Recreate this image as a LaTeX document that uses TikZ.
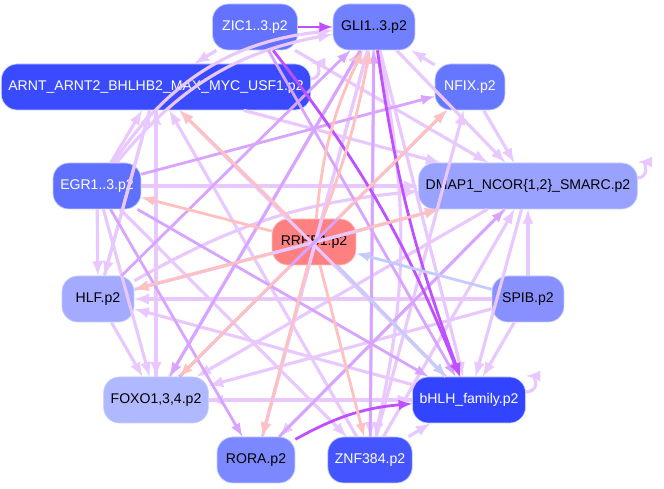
\documentclass[tikz,border=0pt]{standalone}
\usepackage{fontspec}
\setmainfont{Liberation Sans}
\usetikzlibrary{arrows}
\usetikzlibrary{positioning}
\definecolor{lite}{HTML}{E8C8FF}
\definecolor{mid}{HTML}{D8A4FF}
\definecolor{strong}{HTML}{C050FF}
\definecolor{pink}{HTML}{FFC0C0}
\definecolor{pale}{HTML}{C4CCFF}

\tikzset{
  tf/.style={rounded corners=9pt, draw=pale, line width=0.4pt, minimum height=0.92cm,
    font=\fontsize{8}{9}\selectfont, inner xsep=4pt},
  e1/.style={-latex, draw=lite, line width=1.8pt},
  e2/.style={-latex, draw=mid, line width=1.6pt},
  e3/.style={-latex, draw=strong, line width=1.6pt},
  ep/.style={-latex, draw=pink, line width=1.6pt},
  eb/.style={-latex, draw=pale, line width=1.6pt},
}

\begin{document}
\begin{tikzpicture}[x=0.02cm, y=-0.02cm]
    \path[use as bounding box] (0, 0) rectangle (664, 489);

    % edges first, nodes on top
    \begin{scope}[on background layer/.style={}]
    \end{scope}

    \node[tf, fill={rgb,255:red,100;green,115;blue,255}, text=white, minimum width=1.7cm] (zic) at (255, 27) {ZIC1..3.p2};
    \node[tf, fill={rgb,255:red,112;green,128;blue,255}, minimum width=1.64cm] (gli) at (374, 27) {GLI1..3.p2};
    \node[tf, fill={rgb,255:red,58;green,75;blue,255}, text=white, minimum width=6cm] (arnt) at (156, 87) {ARNT\_ARNT2\_BHLHB2\_MAX\_MYC\_USF1.p2};
    \node[tf, fill={rgb,255:red,102;green,119;blue,255}, text=white, minimum width=1.4cm] (nfix) at (470, 87) {NFIX.p2};
    \node[tf, fill={rgb,255:red,95;green,112;blue,255}, text=white, minimum width=1.76cm] (egr) at (97, 186) {EGR1..3.p2};
    \node[tf, fill={rgb,255:red,153;green,163;blue,255}, minimum width=4.24cm] (dmap) at (528, 186) {DMAP1\_NCOR\{1,2\}\_SMARC.p2};
    \node[tf, fill={rgb,255:red,255;green,128;blue,128}, draw=pink, minimum width=1.68cm] (rreb) at (314, 242) {RREB1.p2};
    \node[tf, fill={rgb,255:red,163;green,170;blue,255}, minimum width=1.44cm] (hlf) at (98, 299) {HLF.p2};
    \node[tf, fill={rgb,255:red,136;green,144;blue,255}, minimum width=1.44cm] (spib) at (528, 299) {SPIB.p2};
    \node[tf, fill={rgb,255:red,176;green,184;blue,255}, minimum width=2.08cm] (foxo) at (156, 400) {FOXO1,3,4.p2};
    \node[tf, fill={rgb,255:red,51;green,68;blue,255}, text=white, minimum width=2.24cm] (bhlh) at (469, 400) {bHLH\_family.p2};
    \node[tf, fill={rgb,255:red,124;green,136;blue,255}, minimum width=1.56cm] (rora) at (256, 460) {RORA.p2};
    \node[tf, fill={rgb,255:red,68;green,85;blue,255}, text=white, minimum width=1.64cm] (znf) at (370, 460) {ZNF384.p2};

    \begin{pgfinterruptboundingbox}
    % light edges
    \foreach \a/\b in {egr/dmap, egr/hlf, egr/foxo, egr/arnt, hlf/foxo, foxo/bhlh, bhlh/foxo,
        gli/znf, gli/rora, nfix/dmap, nfix/gli, spib/dmap, spib/bhlh, spib/hlf, bhlh/hlf,
        bhlh/arnt, dmap/foxo, dmap/hlf, znf/bhlh, znf/arnt, znf/nfix, rora/gli, foxo/gli,
        hlf/dmap, arnt/dmap, zic/dmap, gli/foxo, dmap/rora, egr/znf, arnt/foxo, arnt/hlf,
        gli/dmap, zic/arnt, znf/dmap, hlf/arnt, foxo/arnt, spib/foxo, dmap/bhlh, gli/bhlh}
      \draw[e1] (\a) -- (\b);
    \draw[e1] (egr) to[bend left=20] (gli);
    \draw[e1] (egr) to[bend left=25] (gli);
    \draw[e1] (gli) to[bend left=12] (znf);
    \draw[e1] (hlf) to[bend left=12] (dmap);
    % medium edges
    \foreach \a/\b in {egr/nfix, zic/bhlh, egr/rora, foxo/nfix, rora/dmap, gli/foxo, znf/gli, hlf/gli}
      \draw[e2] (\a) -- (\b);
    % strong edges
    \draw[e3] (zic) -- (gli);
    \draw[e3] (zic) to[bend left=8] (bhlh);
    \draw[e3] (gli) to[bend right=6] (bhlh);
    \draw[e3] (rora) to[bend left=12] (bhlh);
    \draw[e2] (egr) -- (bhlh);
    % from RREB1
    \foreach \b in {egr, arnt, nfix, dmap, hlf, foxo, rora, znf, bhlh}
      \draw[ep] (rreb) -- (\b);
    \draw[ep] (rreb) to[bend left=10] (gli);
    \draw[ep] (rreb) to[bend right=5] (gli);
    \draw[eb] (spib) -- (rreb);
    \draw[eb] (rreb) -- (bhlh);
    % self loops
    \draw[e1] (arnt.east) ++(0,-8) arc (90:-90:8 and 8) coordinate (la);
    \draw[e1] (dmap.east) ++(0,-8) arc (90:-90:8 and 8);
    \draw[e1] (bhlh.east) ++(0,-8) arc (90:-90:10 and 8);
    \end{pgfinterruptboundingbox}

    % redraw nodes on top
    \foreach \n in {zic, gli, arnt, nfix, egr, dmap, rreb, hlf, spib, foxo, bhlh, rora, znf} {}
\end{tikzpicture}
\end{document}
